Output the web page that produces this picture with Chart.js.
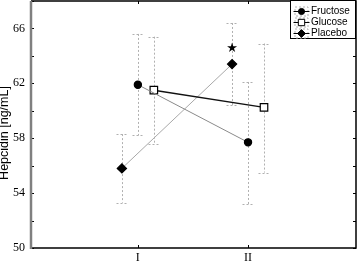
<!DOCTYPE html>
<html>
<head>
<meta charset="utf-8">
<script src="https://cdn.jsdelivr.net/npm/chart.js@4.4.0/dist/chart.umd.min.js"></script>
<style>
  html, body { margin: 0; padding: 0; background: #fff; }
  #wrap { width: 357px; height: 263px; }
</style>
</head>
<body>
<div id="wrap"><canvas id="chart" width="357" height="263"></canvas></div>
<script>
    // values
    let categories = ['I', 'II'];
    let yTicks = [50, 54, 58, 62, 66];

    let fructose = [61.9, 57.7];
    let fructoseHi = [65.6, 62.1];
    let fructoseLo = [58.2, 53.2];

    let glucose = [61.5, 60.25];
    let glucoseHi = [65.4, 64.9];
    let glucoseLo = [57.6, 55.5];

    let placebo = [55.8, 63.4];
    let placeboHi = [58.3, 66.4];
    let placeboLo = [53.3, 60.4];

    let starValue = 64.5;   // significance mark above placebo at II

    // small horizontal shift so the groups do not overlap
    let shift = { Fructose: 0, Glucose: 0.145, Placebo: -0.145 };

    function points(values, name) {
        return values.map((v, i) => ({ x: i + 1 + shift[name], y: v }));
    }

    let series = [
        { name: 'Fructose', values: fructose, hi: fructoseHi, lo: fructoseLo,
          line: '#8a8a8a', width: 1, style: 'circle', radius: 3.6, fill: '#000' },
        { name: 'Glucose', values: glucose, hi: glucoseHi, lo: glucoseLo,
          line: '#111', width: 1.4, style: 'rect', radius: 5.3, fill: '#fff' },
        { name: 'Placebo', values: placebo, hi: placeboHi, lo: placeboLo,
          line: '#a8a8a8', width: 1, style: 'rectRot', radius: 4.6, fill: '#000' }
    ];

    let errorBars = {
        id: 'errorBars',
        beforeDatasetsDraw(chart) {
            let ctx = chart.ctx;
            let xs = chart.scales.x, ys = chart.scales.y;
            ctx.save();
            ctx.strokeStyle = '#b0b0b0';
            ctx.lineWidth = 1;
            ctx.setLineDash([2, 2]);
            series.forEach(s => {
                for (let i = 0; i < s.values.length; i++) {
                    let px = Math.round(xs.getPixelForValue(i + 1 + shift[s.name])) + 0.5;
                    let top = ys.getPixelForValue(s.hi[i]);
                    let bot = ys.getPixelForValue(s.lo[i]);
                    ctx.beginPath();
                    ctx.moveTo(px, top); ctx.lineTo(px, bot);
                    ctx.moveTo(px - 6, Math.round(top) + 0.5); ctx.lineTo(px + 6, Math.round(top) + 0.5);
                    ctx.moveTo(px - 6, Math.round(bot) + 0.5); ctx.lineTo(px + 6, Math.round(bot) + 0.5);
                    ctx.stroke();
                }
            });
            ctx.restore();
        },
        afterDatasetsDraw(chart) {
            let ctx = chart.ctx;
            let xs = chart.scales.x, ys = chart.scales.y;
            ctx.save();
            ctx.fillStyle = '#000';
            ctx.font = '13px "DejaVu Sans"';
            ctx.textAlign = 'center';
            ctx.textBaseline = 'middle';
            ctx.fillText('\u2605', xs.getPixelForValue(2 + shift.Placebo), ys.getPixelForValue(starValue));
            ctx.restore();
        }
    };

    let frame = {
        id: 'frame',
        afterDraw(chart) {
            let ctx = chart.ctx;
            let a = chart.chartArea;
            let xs = chart.scales.x, ys = chart.scales.y;
            ctx.save();
            ctx.strokeStyle = '#000';
            ctx.lineWidth = 1;
            // ticks inside the frame
            ctx.beginPath();
            for (let v = 50; v <= 68; v += 2) {
                let py = Math.round(ys.getPixelForValue(v)) + 0.5;
                ctx.moveTo(a.left, py); ctx.lineTo(a.left + 3, py);
                ctx.moveTo(a.right, py); ctx.lineTo(a.right - 3, py);
            }
            categories.forEach((c, i) => {
                let px = Math.round(xs.getPixelForValue(i + 1)) + 0.5;
                ctx.moveTo(px, a.bottom); ctx.lineTo(px, a.bottom - 3);
                ctx.moveTo(px, a.top); ctx.lineTo(px, a.top + 3);
            });
            ctx.stroke();
            // box
            ctx.lineWidth = 1.5;
            ctx.beginPath();
            ctx.moveTo(a.left, a.bottom); ctx.lineTo(a.right, a.bottom);
            ctx.lineTo(a.right, a.top); ctx.lineTo(a.left, a.top);
            ctx.stroke();
            ctx.strokeStyle = '#808080';
            ctx.lineWidth = 2.5;
            ctx.beginPath();
            ctx.moveTo(a.left, a.top); ctx.lineTo(a.left, a.bottom + 1);
            ctx.stroke();

            // y axis title
            ctx.save();
            ctx.translate(5, 133);
            ctx.rotate(-Math.PI / 2);
            ctx.fillStyle = '#000';
            ctx.font = '12.5px "Liberation Sans"';
            ctx.textAlign = 'center';
            ctx.textBaseline = 'middle';
            ctx.fillText('Hepcidin [ng/mL]', 0, 0);
            ctx.restore();

            // legend
            let lx = 290, ly = 0, lw = a.right - lx, lh = 39;
            ctx.fillStyle = '#fff';
            ctx.fillRect(lx, ly, lw, lh);
            ctx.strokeStyle = '#000';
            ctx.lineWidth = 1;
            ctx.strokeRect(lx + 0.5, ly + 0.5, lw - 1, lh - 1);
            ctx.font = '10px "Liberation Sans"';
            ctx.textBaseline = 'middle';
            ctx.textAlign = 'left';
            series.forEach((s, i) => {
                let cy = 11.5 + i * 11;
                let cx = 301.5;
                ctx.strokeStyle = '#b0b0b0';
                ctx.setLineDash([2, 2]);
                ctx.strokeRect(cx - 6.5, cy - 4.5, 13, 9);
                ctx.setLineDash([]);
                ctx.strokeStyle = '#000';
                ctx.lineWidth = 1;
                ctx.beginPath();
                ctx.moveTo(cx - 8, cy); ctx.lineTo(cx + 8, cy);
                ctx.stroke();
                ctx.fillStyle = s.fill;
                Chart.helpers.drawPoint(ctx, {
                    pointStyle: s.style, radius: s.radius * 0.85, borderWidth: 1
                }, cx, cy);
                ctx.fillStyle = '#000';
                ctx.fillText(s.name, 311, cy);
            });
            ctx.restore();
        }
    };

    let datasets = series.map(s => ({
        label: s.name,
        data: points(s.values, s.name),
        borderColor: s.line,
        borderWidth: s.width,
        pointStyle: s.style,
        pointRadius: s.radius,
        pointBackgroundColor: s.fill,
        pointBorderColor: '#000',
        pointBorderWidth: 1.2,
        showLine: true,
        tension: 0
    }));

    let chart = new Chart(document.getElementById('chart'), {
        type: 'scatter',
        data: { datasets: datasets },
        options: {
            responsive: false,
            animation: false,
            events: [],
            layout: { autoPadding: false, padding: { top: 1, right: 1, left: 0, bottom: 0 } },
            plugins: { legend: { display: false }, tooltip: { enabled: false } },
            scales: {
                x: {
                    type: 'linear',
                    min: 0.03,
                    max: 2.98,
                    afterBuildTicks(axis) {
                        axis.ticks = categories.map((c, i) => ({ value: i + 1 }));
                    },
                    afterFit(axis) {
                        axis.height = 15;
                        axis.paddingLeft = 0;
                        axis.paddingRight = 0;
                    },
                    grid: { display: false, drawTicks: false },
                    border: { display: false },
                    ticks: {
                        padding: 3,
                        color: '#000',
                        font: { family: 'Liberation Serif', size: 12 },
                        callback: v => categories[v - 1] || ''
                    }
                },
                y: {
                    min: 50,
                    max: 68,
                    afterBuildTicks(axis) {
                        axis.ticks = yTicks.map(v => ({ value: v }));
                    },
                    afterFit(axis) {
                        axis.width = 31;
                        axis.paddingTop = 0;
                        axis.paddingBottom = 0;
                    },
                    grid: { display: false, drawTicks: false },
                    border: { display: false },
                    ticks: {
                        padding: 6,
                        color: '#000',
                        font: { family: 'Liberation Serif', size: 12 }
                    }
                }
            }
        },
        plugins: [errorBars, frame]
    });
</script>
</body>
</html>
